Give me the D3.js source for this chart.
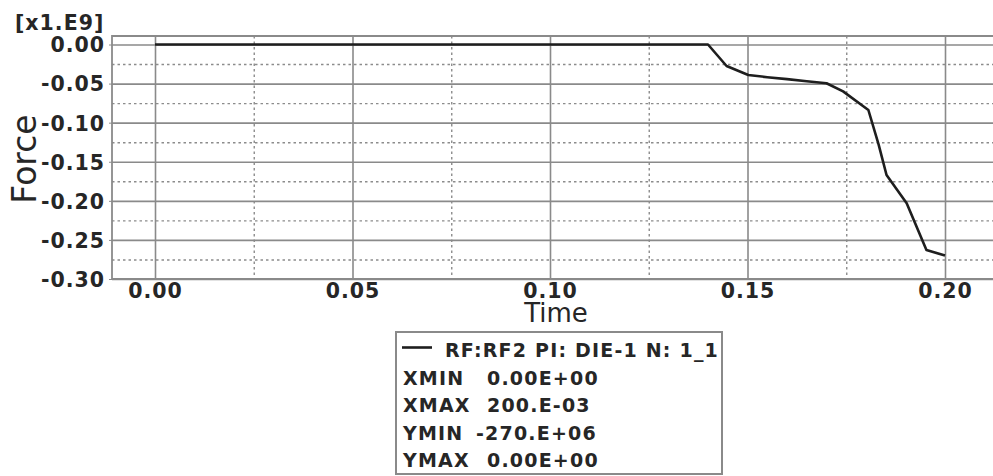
<!DOCTYPE html>
<html>
<head>
<meta charset="utf-8">
<script src="https://cdn.jsdelivr.net/npm/d3@7"></script>
<style>
  html, body { margin: 0; padding: 0; background: #fff; }
  svg { display: block; }
  .tick-label { font-family: "DejaVu Sans", Verdana, sans-serif; font-weight: bold; font-size: 20.5px; fill: #262626; letter-spacing: 1px; }
  .axis-title { font-family: "DejaVu Sans", Verdana, sans-serif; fill: #262626; }
  .legend-text { font-family: "DejaVu Sans", Verdana, sans-serif; font-weight: bold; font-size: 19px; fill: #262626; letter-spacing: 1.2px; }
</style>
</head>
<body>
<svg id="chart" width="993" height="476"></svg>
<script>
// Reaction force RF2 on DIE-1 over time (force in units of 1e9)
const times  = [0, 0.140, 0.1447, 0.1502, 0.155, 0.160, 0.165, 0.170, 0.1742, 0.1806, 0.1832, 0.1852, 0.1903, 0.1953, 0.200];
const forces = [0, 0, -0.0275, -0.039, -0.0418, -0.0443, -0.047, -0.0496, -0.060, -0.0838, -0.128, -0.167, -0.203, -0.263, -0.270];

const xTicks = [0, 0.05, 0.10, 0.15, 0.20];
const xMinorTicks = [0.025, 0.075, 0.125, 0.175];
const yTicks = [0, -0.05, -0.10, -0.15, -0.20, -0.25, -0.30];
const yMinorTicks = [-0.025, -0.075, -0.125, -0.175, -0.225, -0.275];

const legendTitle = "RF:RF2 PI: DIE-1 N: 1_1";
const legendKeys = ["XMIN", "XMAX", "YMIN", "YMAX"];
const legendValues = ["0.00E+00", "200.E-03", "-270.E+06", "0.00E+00"];

const svg = d3.select("#chart");

// Tick labels use a plain hyphen for the sign
const fmt2 = d => d3.format(".2f")(d).replace("\u2212", "-");

// Plot frame spans a little beyond the data range on each side
const frame = { left: 112, top: 36, right: 993, bottom: 279 };
const x = d3.scaleLinear().domain([0, 0.20]).range([155, 945]);
const y = d3.scaleLinear().domain([0, -0.30]).range([44.5, 279]);

const grid = svg.append("g");

// Dashed minor grid
grid.append("g")
  .attr("transform", `translate(0,${frame.top})`)
  .call(d3.axisBottom(x).tickValues(xMinorTicks).tickSize(frame.bottom - frame.top).tickFormat(""))
  .call(g => g.select(".domain").remove())
  .call(g => g.selectAll("line").attr("stroke", "#8c8c8c").attr("stroke-width", 1.4).attr("stroke-dasharray", "2.5,3"));
grid.append("g")
  .attr("transform", `translate(${frame.left},0)`)
  .call(d3.axisRight(y).tickValues(yMinorTicks).tickSize(frame.right - frame.left).tickFormat(""))
  .call(g => g.select(".domain").remove())
  .call(g => g.selectAll("line").attr("stroke", "#8c8c8c").attr("stroke-width", 1.4).attr("stroke-dasharray", "2.5,3"));

// Solid major grid
grid.append("g")
  .attr("transform", `translate(0,${frame.top})`)
  .call(d3.axisBottom(x).tickValues(xTicks).tickSize(frame.bottom - frame.top).tickFormat(""))
  .call(g => g.select(".domain").remove())
  .call(g => g.selectAll("line").attr("stroke", "#8a8a8a").attr("stroke-width", 1.6));
grid.append("g")
  .attr("transform", `translate(${frame.left},0)`)
  .call(d3.axisRight(y).tickValues(yTicks).tickSize(frame.right - frame.left).tickFormat(""))
  .call(g => g.select(".domain").remove())
  .call(g => g.selectAll("line").attr("stroke", "#8a8a8a").attr("stroke-width", 1.6));

// Frame edges (left, top, bottom)
svg.append("path")
  .attr("d", `M${frame.right},${frame.top}H${frame.left}V${frame.bottom}H${frame.right}`)
  .attr("fill", "none").attr("stroke", "#8a8a8a").attr("stroke-width", 1.8);

// Y axis tick labels with short outer ticks
svg.append("g")
  .attr("transform", `translate(${frame.left},0)`)
  .call(d3.axisLeft(y).tickValues(yTicks).tickSize(3).tickPadding(4).tickFormat(fmt2))
  .call(g => g.select(".domain").remove())
  .call(g => g.selectAll("line").attr("stroke", "#8a8a8a"))
  .call(g => g.selectAll("text").attr("class", "tick-label").attr("dy", "0.36em"));

// X axis tick labels
svg.append("g")
  .attr("transform", `translate(0,${frame.bottom})`)
  .call(d3.axisBottom(x).tickValues(xTicks).tickSize(0).tickPadding(4).tickFormat(fmt2))
  .call(g => g.select(".domain").remove())
  .call(g => g.selectAll("text").attr("class", "tick-label").attr("dy", "0.72em"));

// Scale factor note
svg.append("text").attr("class", "tick-label")
  .attr("x", 15).attr("y", 30).text("[x1.E9]");

// Axis titles
svg.append("text").attr("class", "axis-title")
  .attr("font-size", 26).attr("text-anchor", "middle")
  .attr("x", 556).attr("y", 322).text("Time");
svg.append("text").attr("class", "axis-title")
  .attr("font-size", 33).attr("text-anchor", "middle")
  .attr("transform", "translate(36,159) rotate(-90)").text("Force");

// Data curve
const line = d3.line().x((d, i) => x(times[i])).y(d => y(d));
svg.append("path")
  .datum(forces)
  .attr("d", line)
  .attr("fill", "none").attr("stroke", "#1e1e1e").attr("stroke-width", 2.6)
  .attr("stroke-linejoin", "round");

// Legend box
const lg = svg.append("g");
lg.append("rect")
  .attr("x", 396).attr("y", 332).attr("width", 326).attr("height", 142)
  .attr("fill", "#fff").attr("stroke", "#8a8a8a").attr("stroke-width", 2);
lg.append("line")
  .attr("x1", 402).attr("x2", 432).attr("y1", 347.5).attr("y2", 347.5)
  .attr("stroke", "#1e1e1e").attr("stroke-width", 2.6);
lg.append("text").attr("class", "legend-text")
  .attr("x", 445).attr("y", 357).text(legendTitle);

const rowY = [385, 412, 440, 467];
legendKeys.forEach((k, i) => {
  lg.append("text").attr("class", "legend-text")
    .attr("x", 403).attr("y", rowY[i]).text(k);
  const v = legendValues[i];
  lg.append("text").attr("class", "legend-text")
    .attr("x", v.startsWith("-") ? 476 : 487).attr("y", rowY[i]).text(v);
});
</script>
</body>
</html>
